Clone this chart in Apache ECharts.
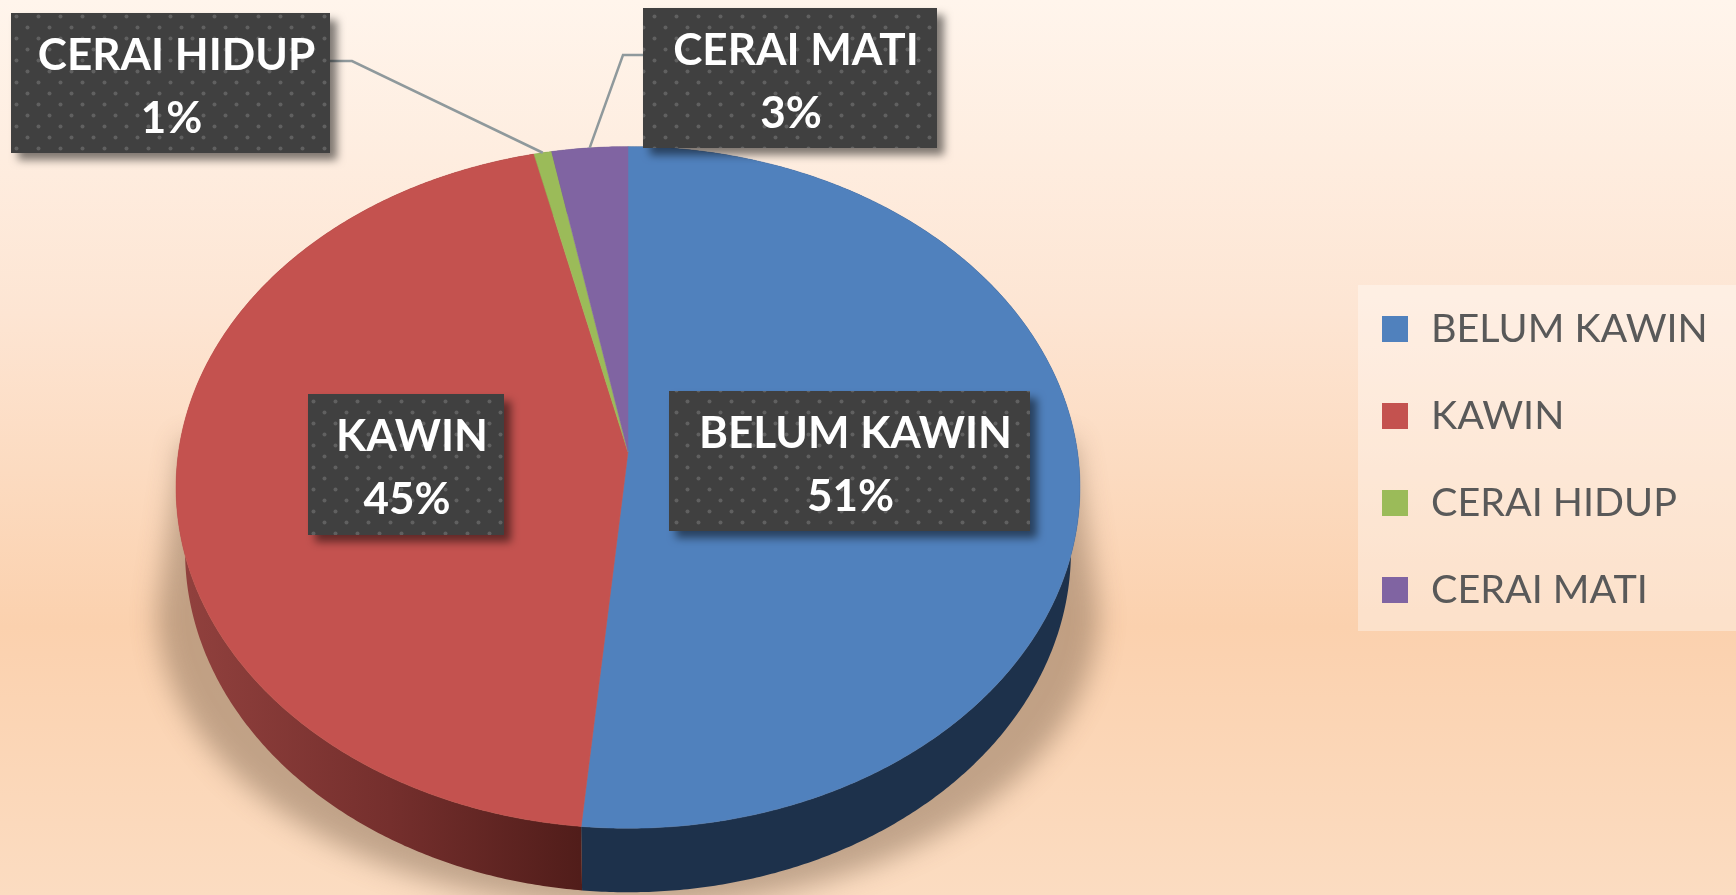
<!DOCTYPE html>
<html>
<head>
<meta charset="utf-8">
<title>Status kawin</title>
<script src="https://cdn.jsdelivr.net/npm/echarts@6/dist/echarts.min.js"></script>
<style>
  html, body { margin: 0; padding: 0; }
  #chart { width: 1736px; height: 895px; }
</style>
</head>
<body>
<div id="chart"></div>
<script>
var categories = ['BELUM KAWIN', 'KAWIN', 'CERAI HIDUP', 'CERAI MATI'];
var values = [51.49, 44.81, 0.7, 3.0];
var colors = ['#5081bd', '#c4524f', '#9bbb59', '#8064a2'];

// tilted pie: apex on screen, radius, squash, perspective, wall height
var pie = { cx: 628, cy: 452, r: 449.5, squash: 0.75, persp: 0.104, depth: 64, wallScale: 0.98 };

// label boxes in pixels, knee = where the leader line bends
var boxes = [
  { x: 669, y: 391, w: 361, h: 140 },
  { x: 308, y: 394, w: 196, h: 141 },
  { x: 11, y: 13, w: 319, h: 140, from: [330, 61], knee: [352, 61] },
  { x: 643, y: 8, w: 294, h: 140, from: [643, 55], knee: [623, 55] }
];

var total = values.reduce(function (a, b) { return a + b; }, 0);
var bounds = [0];
values.forEach(function (v, i) { bounds.push(bounds[i] + v / total * Math.PI * 2); });

function project(a) {
  var u = Math.sin(a), v = Math.cos(a);
  var f = 1 / (1 - pie.persp * v);
  return [pie.cx + pie.r * u * f, pie.cy + pie.r * pie.squash * v * f];
}
// angle 0 = top of pie going clockwise
function at(a) { return project(Math.PI - a); }
function arc(a0, a1) {
  var pts = [], n = Math.max(2, Math.ceil((a1 - a0) / 0.008));
  for (var i = 0; i <= n; i++) pts.push(at(a0 + (a1 - a0) * i / n));
  return pts;
}

function dotPattern() {
  var c = document.createElement('canvas');
  c.width = 22; c.height = 22;
  var g = c.getContext('2d');
  g.fillStyle = '#404040';
  g.fillRect(0, 0, 22, 22);
  g.fillStyle = '#606060';
  [[5.5, 5.5], [16.5, 16.5]].forEach(function (p) {
    g.beginPath(); g.arc(p[0], p[1], 2, 0, Math.PI * 2); g.fill();
  });
  return c;
}
var pattern = { image: dotPattern(), repeat: 'repeat' };

function renderShadow() {
  var pts = [], off = 3000, i;
  pts.push([pie.cx - 446 - off, 440]);
  for (i = 0; i <= 90; i++) {
    var t = Math.PI - i / 90 * Math.PI;
    pts.push([pie.cx + 471 * Math.cos(t) - off, 610 + 298 * Math.sin(t)]);
  }
  pts.push([pie.cx + 446 - off, 440]);
  return {
    type: 'polygon',
    shape: { points: pts },
    style: {
      fill: '#000',
      shadowColor: 'rgba(125,100,78,0.46)',
      shadowBlur: 26,
      shadowOffsetX: off
    }
  };
}

function renderWalls() {
  var children = [];
  var wallFill = [
    '#1d314b',
    new echarts.graphic.LinearGradient(190, 0, 590, 0, [
      { offset: 0, color: '#90403d' },
      { offset: 0.5, color: '#752f2d' },
      { offset: 1, color: '#4f1c19' }
    ], true),
    '#5d7037',
    '#4c3c61'
  ];
  values.forEach(function (v, i) {
    var top = arc(bounds[i], bounds[i + 1]);
    var bottom = top.map(function (p) {
      return [pie.cx + (p[0] - pie.cx) * pie.wallScale, p[1] + pie.depth];
    }).reverse();
    children.push({
      type: 'polygon',
      shape: { points: top.concat(bottom) },
      style: { fill: wallFill[i] }
    });
  });
  return { type: 'group', children: children };
}

function renderSlice(params) {
  var i = params.seriesIndex - 2;
  var pts = [[pie.cx, pie.cy]].concat(arc(bounds[i], bounds[i + 1]));
  return {
    type: 'polygon',
    shape: { points: pts },
    style: { fill: colors[i], stroke: colors[i], lineWidth: 0.5 }
  };
}

function renderLabels() {
  var children = [];
  boxes.forEach(function (b, i) {
    if (b.knee) {
      children.push({
        type: 'polyline',
        shape: { points: [b.from, b.knee, at((bounds[i] + bounds[i + 1]) / 2)] },
        style: { fill: 'none', stroke: '#8f999c', lineWidth: 2.5 }
      });
    }
    children.push({
      type: 'rect',
      shape: { x: b.x, y: b.y, width: b.w, height: b.h },
      style: {
        fill: pattern,
        shadowColor: 'rgba(0,0,0,0.5)',
        shadowBlur: 9,
        shadowOffsetX: 7,
        shadowOffsetY: 7
      }
    });
    var mid = b.x + b.w / 2;
    [[categories[i], b.y + 43], [Math.round(values[i] / total * 100) + '%', b.y + 106]].forEach(function (t, k) {
      children.push({
        type: 'text',
        x: mid + (k === 0 ? 6 : 1),
        y: t[1],
        style: {
          text: t[0],
          fill: '#fff',
          font: 'bold 44px Lato',
          textAlign: 'center',
          textVerticalAlign: 'middle'
        }
      });
    });
  });
  return { type: 'group', children: children };
}

var series = [
  { type: 'custom', coordinateSystem: 'none', z: 1, silent: true, data: [0], renderItem: renderShadow },
  { type: 'custom', coordinateSystem: 'none', z: 2, silent: true, data: [0], renderItem: renderWalls }
];
categories.forEach(function (name, i) {
  series.push({
    type: 'custom',
    name: name,
    coordinateSystem: 'none',
    z: 3,
    silent: true,
    itemStyle: { color: colors[i] },
    data: [values[i]],
    renderItem: renderSlice
  });
});
series.push({ type: 'custom', coordinateSystem: 'none', z: 4, silent: true, data: [0], renderItem: renderLabels });

var myChart = echarts.init(document.getElementById('chart'));
myChart.setOption({
  animation: false,
  backgroundColor: new echarts.graphic.LinearGradient(0, 0, 0, 1, [
    { offset: 0, color: '#fff5ec' },
    { offset: 0.35, color: '#fde5d3' },
    { offset: 0.7, color: '#fbd1ae' },
    { offset: 1, color: '#fbdcc1' }
  ]),
  legend: {
    orient: 'vertical',
    left: 1358,
    top: 285,
    padding: [24, 30, 21, 24],
    backgroundColor: 'rgba(255,255,255,0.35)',
    icon: 'rect',
    itemWidth: 26,
    itemHeight: 26,
    itemGap: 47,
    selectedMode: false,
    data: categories,
    textStyle: { color: '#595959', fontFamily: 'Lato', fontSize: 39.5, padding: [2, 0, 0, 18] }
  },
  series: series
});
</script>
</body>
</html>
